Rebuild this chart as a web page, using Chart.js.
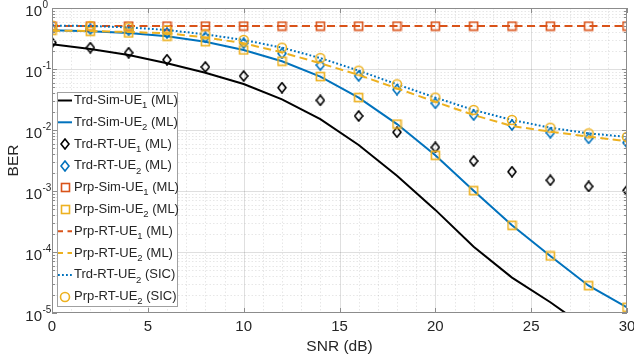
<!DOCTYPE html>
<html>
<head>
<meta charset="utf-8">
<script src="https://cdn.jsdelivr.net/npm/chart.js@4"></script>
<style>
  html, body { margin: 0; padding: 0; background: #fff; }
  #wrap { width: 634px; height: 358px; }
</style>
</head>
<body>
<div id="wrap"><canvas id="c" width="634" height="358"></canvas></div>
<script>
// values (BER vs SNR in dB)
const snr = [0, 2, 4, 6, 8, 10, 12, 14, 16, 18, 20, 22, 24, 26, 28, 30];
const trdSimUE1 = [0.255, 0.213, 0.17, 0.124, 0.087, 0.0568, 0.0318, 0.0151, 0.00568, 0.00178, 4.9e-4, 1.22e-4, 3.8e-5, 1.5e-5, 5.4e-6, 2.2e-6];
const trdSimUE2 = [0.43, 0.415, 0.39, 0.345, 0.28, 0.205, 0.134, 0.075, 0.034, 0.0125, 0.00385, 0.00101, 2.74e-4, 8.6e-5, 2.8e-5, 1.24e-5];
const trdRtUE1 = [0.27, 0.224, 0.185, 0.142, 0.108, 0.0767, 0.0494, 0.0306, 0.017, 0.0092, 0.0052, 0.0031, 0.00207, 0.0015, 0.00119, 0.00102];
const trdRtUE2 = [0.46, 0.45, 0.43, 0.39, 0.33, 0.265, 0.18, 0.116, 0.077, 0.046, 0.0274, 0.0176, 0.0121, 0.009, 0.0073, 0.0062];
const prpSimUE1 = [0.505, 0.505, 0.505, 0.505, 0.505, 0.505, 0.505, 0.505, 0.505, 0.505, 0.505, 0.505, 0.505, 0.505, 0.505, 0.505];
const prpSimUE2 = [0.43, 0.415, 0.39, 0.345, 0.28, 0.205, 0.134, 0.075, 0.034, 0.0125, 0.00385, 0.00101, 2.74e-4, 8.6e-5, 2.8e-5, 1.24e-5];
const prpRtUE1 = [0.505, 0.505, 0.505, 0.505, 0.505, 0.505, 0.505, 0.505, 0.505, 0.505, 0.505, 0.505, 0.505, 0.505, 0.505, 0.505];
const prpRtUE2 = [0.425, 0.42, 0.404, 0.385, 0.33, 0.264, 0.187, 0.124, 0.08, 0.048, 0.029, 0.0176, 0.0116, 0.0094, 0.0078, 0.0065];
const trdRtUE2Sic = [0.515, 0.507, 0.48, 0.436, 0.37, 0.299, 0.224, 0.151, 0.094, 0.056, 0.034, 0.0213, 0.0146, 0.0109, 0.0088, 0.0077];
const prpRtUE2Sic = [0.515, 0.507, 0.48, 0.436, 0.37, 0.299, 0.224, 0.151, 0.094, 0.056, 0.034, 0.0213, 0.0146, 0.0109, 0.0088, 0.0077];

const seriesNames = [
  'Trd-Sim-UE_1 (ML)', 'Trd-Sim-UE_2 (ML)', 'Trd-RT-UE_1 (ML)', 'Trd-RT-UE_2 (ML)',
  'Prp-Sim-UE_1 (ML)', 'Prp-Sim-UE_2 (ML)', 'Prp-RT-UE_1 (ML)', 'Prp-RT-UE_2 (ML)',
  'Trd-RT-UE_2 (SIC)', 'Prp-RT-UE_2 (SIC)'
];
const xTicks = [0, 5, 10, 15, 20, 25, 30];
const yTicks = [1, 1e-1, 1e-2, 1e-3, 1e-4, 1e-5];
const yTickExp = ['0', '-1', '-2', '-3', '-4', '-5'];

const BLUE = '#0072BD', ORANGE = '#D95319', YELLOW = '#EDB120', BLACK = '#000000';
const TXT = '#262626';
const FONT = '"Liberation Sans", Arial, Helvetica, sans-serif';

const styles = [
  { color: BLACK, line: 'solid' },
  { color: BLUE, line: 'solid' },
  { color: BLACK, marker: 'diamond' },
  { color: BLUE, marker: 'diamond' },
  { color: ORANGE, marker: 'square' },
  { color: YELLOW, marker: 'square' },
  { color: ORANGE, line: 'dash' },
  { color: YELLOW, line: 'dash' },
  { color: BLUE, line: 'dot' },
  { color: YELLOW, marker: 'circle' },
];
const series = [trdSimUE1, trdSimUE2, trdRtUE1, trdRtUE2, prpSimUE1, prpSimUE2, prpRtUE1, prpRtUE2, trdRtUE2Sic, prpRtUE2Sic];
const dashes = { solid: [], dash: [8, 4.5], dot: [1.8, 2.2] };

// open matlab-like markers as small canvases
function markerImg(kind, color) {
  const c = document.createElement('canvas');
  let g;
  if (kind === 'diamond') {
    c.width = 10; c.height = 12;
    g = c.getContext('2d');
    g.strokeStyle = color; g.lineWidth = 1.6;
    g.beginPath();
    g.moveTo(5, 1); g.lineTo(9, 6); g.lineTo(5, 11); g.lineTo(1, 6);
    g.closePath(); g.stroke();
  } else if (kind === 'square') {
    c.width = 11; c.height = 11;
    g = c.getContext('2d');
    g.strokeStyle = color; g.lineWidth = 1.6;
    g.strokeRect(1.5, 1.5, 8, 8);
  } else {
    c.width = 12; c.height = 12;
    g = c.getContext('2d');
    g.strokeStyle = color; g.lineWidth = 1.6;
    g.beginPath(); g.arc(6, 6, 4.5, 0, Math.PI * 2); g.stroke();
  }
  return c;
}

const datasets = series.map((vals, i) => {
  const st = styles[i];
  return {
    label: seriesNames[i].replace('_', ''),
    data: snr.map((x, j) => ({ x, y: vals[j] })),
    showLine: !!st.line,
    borderColor: st.color,
    backgroundColor: 'rgba(0,0,0,0)',
    borderWidth: 2,
    borderDash: st.line ? dashes[st.line] : [],
    borderCapStyle: 'butt',
    pointStyle: st.marker ? markerImg(st.marker, st.color) : 'circle',
    pointRadius: st.marker ? 5 : 0,
    tension: 0,
    fill: false,
    order: series.length - i,
  };
});

function drawRich(ctx, text, x, y, size, subSize) {
  const m = text.match(/^(.*?)_(\d)(.*)$/);
  ctx.textAlign = 'left';
  ctx.textBaseline = 'middle';
  ctx.font = size + 'px ' + FONT;
  if (!m) { ctx.fillText(text, x, y); return; }
  ctx.fillText(m[1], x, y);
  x += ctx.measureText(m[1]).width;
  ctx.font = subSize + 'px ' + FONT;
  ctx.fillText(m[2], x, y + 5);
  x += ctx.measureText(m[2]).width;
  ctx.font = size + 'px ' + FONT;
  ctx.fillText(m[3], x, y);
}

const frame = {
  id: 'matlabFrame',
  beforeDatasetsDraw(chart) {
    const { ctx, chartArea: a, scales: { x, y } } = chart;
    ctx.save();
    ctx.lineWidth = 1;
    // minor grid
    ctx.strokeStyle = 'rgba(38,38,38,0.11)';
    ctx.setLineDash([1.5, 2]);
    ctx.beginPath();
    for (let v = x.min + 1; v < x.max; v++) {
      if (v % 5 === 0) continue;
      const px = Math.round(x.getPixelForValue(v)) + 0.5;
      ctx.moveTo(px, a.top); ctx.lineTo(px, a.bottom);
    }
    for (let k = -5; k < 0; k++) {
      for (let m = 2; m <= 9; m++) {
        const py = Math.round(y.getPixelForValue(m * Math.pow(10, k))) + 0.5;
        ctx.moveTo(a.left, py); ctx.lineTo(a.right, py);
      }
    }
    ctx.stroke();
    // major grid
    ctx.setLineDash([]);
    ctx.strokeStyle = 'rgba(38,38,38,0.15)';
    ctx.beginPath();
    xTicks.slice(1, -1).forEach(v => {
      const px = Math.round(x.getPixelForValue(v)) + 0.5;
      ctx.moveTo(px, a.top); ctx.lineTo(px, a.bottom);
    });
    yTicks.slice(1, -1).forEach(v => {
      const py = Math.round(y.getPixelForValue(v)) + 0.5;
      ctx.moveTo(a.left, py); ctx.lineTo(a.right, py);
    });
    ctx.stroke();
    ctx.restore();
  },
  afterDatasetsDraw(chart) {
    const { ctx, chartArea: a, scales: { x, y } } = chart;
    ctx.save();
    // axes box + inward ticks
    ctx.strokeStyle = '#8c8c8c';
    ctx.lineWidth = 1;
    ctx.strokeRect(a.left + 0.5, a.top + 0.5, a.right - a.left - 1, a.bottom - a.top - 1);
    ctx.beginPath();
    xTicks.forEach(v => {
      const px = Math.round(x.getPixelForValue(v)) + 0.5;
      ctx.moveTo(px, a.bottom); ctx.lineTo(px, a.bottom - 5);
      ctx.moveTo(px, a.top); ctx.lineTo(px, a.top + 5);
    });
    for (let k = -5; k <= 0; k++) {
      for (let m = 1; m <= 9; m++) {
        const v = m * Math.pow(10, k);
        if (v > y.max) break;
        const len = m === 1 ? 5 : 3;
        const py = Math.round(y.getPixelForValue(v)) + 0.5;
        ctx.moveTo(a.left, py); ctx.lineTo(a.left + len, py);
        ctx.moveTo(a.right, py); ctx.lineTo(a.right - len, py);
      }
    }
    ctx.stroke();

    // tick labels
    ctx.fillStyle = TXT;
    ctx.font = '15px ' + FONT;
    ctx.textAlign = 'center';
    ctx.textBaseline = 'middle';
    xTicks.forEach(v => ctx.fillText(String(v), x.getPixelForValue(v), a.bottom + 14));
    yTicks.forEach((v, i) => {
      const py = y.getPixelForValue(v);
      ctx.font = '15px ' + FONT;
      ctx.textAlign = 'right';
      ctx.fillText('10', a.left - 10, py + 4);
      ctx.font = '10px ' + FONT;
      ctx.textAlign = 'left';
      ctx.fillText(yTickExp[i], a.left - 9.5, py - 2.5);
    });

    // legend box
    const lg = { left: 57, top: 92, right: 178, bottom: 307, row0: 100.5, gap: 21.8, sL: 58, sR: 72, tx: 74 };
    ctx.fillStyle = '#fff';
    ctx.fillRect(lg.left, lg.top, lg.right - lg.left, lg.bottom - lg.top);
    ctx.strokeStyle = '#a0a0a0';
    ctx.lineWidth = 1;
    ctx.strokeRect(lg.left + 0.5, lg.top + 0.5, lg.right - lg.left - 1, lg.bottom - lg.top - 1);
    chart.data.datasets.forEach((ds, i) => {
      const yy = lg.row0 + i * lg.gap;
      const st = styles[i];
      if (st.line) {
        ctx.save();
        ctx.setLineDash(st.line === 'dash' ? [5, 4.5] : dashes[st.line]);
        ctx.strokeStyle = st.color;
        ctx.lineWidth = 2;
        ctx.beginPath(); ctx.moveTo(lg.sL, yy); ctx.lineTo(lg.sR, yy); ctx.stroke();
        ctx.restore();
      }
      if (st.marker) {
        const img = ds.pointStyle;
        ctx.drawImage(img, Math.round((lg.sL + lg.sR) / 2 - img.width / 2), Math.round(yy - img.height / 2));
      }
      ctx.fillStyle = TXT;
      drawRich(ctx, seriesNames[i], lg.tx, yy, 13, 9.5);
    });
    ctx.restore();
  }
};

Chart.defaults.font.family = FONT;
Chart.defaults.color = TXT;

new Chart(document.getElementById('c'), {
  type: 'line',
  data: { datasets },
  options: {
    responsive: false,
    devicePixelRatio: 1,
    animation: false,
    layout: { padding: { top: 8, right: 7, left: 0, bottom: 0 } },
    plugins: { legend: { display: false }, tooltip: { enabled: false } },
    scales: {
      x: {
        type: 'linear', min: 0, max: 30,
        grid: { display: false }, border: { display: false },
        ticks: { display: false },
        title: { display: true, text: 'SNR (dB)', color: TXT, font: { size: 15.5 }, padding: { top: 0, bottom: 2 } },
        afterFit: s => { s.height = 45; }
      },
      y: {
        type: 'logarithmic', min: 1e-5, max: 1,
        grid: { display: false }, border: { display: false },
        ticks: { display: false },
        title: { display: true, text: 'BER', color: TXT, font: { size: 15.5 }, padding: { top: 4, bottom: 0 } },
        afterFit: s => { s.width = 52; }
      }
    }
  },
  plugins: [frame]
});
</script>
</body>
</html>
